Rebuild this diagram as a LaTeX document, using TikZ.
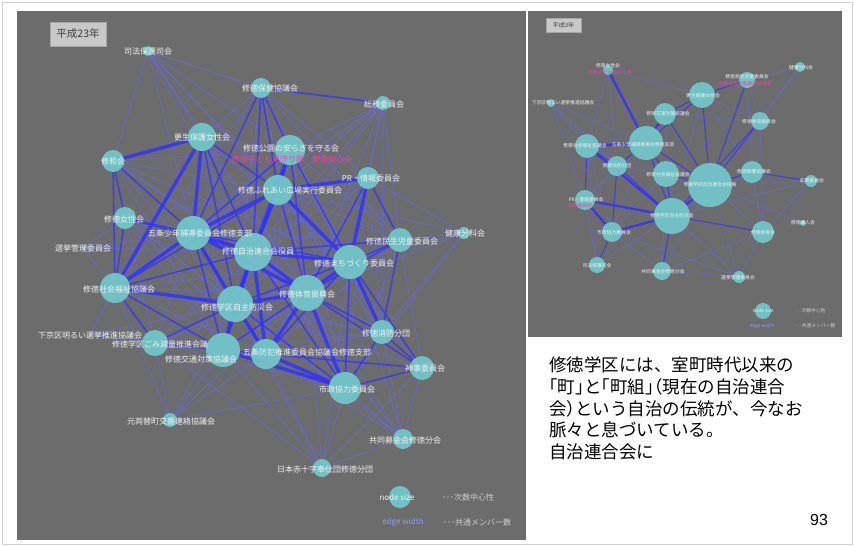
\documentclass[tikz,border=0pt]{standalone}
\usepackage{fontspec}
\setmainfont{Liberation Sans}
\newfontfamily\jp{Noto Sans CJK JP}
\newfontfamily\jphalt[RawFeature=+halt]{Noto Sans CJK JP}
\definecolor{panelgray}{RGB}{108,108,108}
\definecolor{nodeteal}{RGB}{114,200,204}
\definecolor{edgeblue}{RGB}{50,50,255}
\definecolor{edgedim}{RGB}{105,105,215}
\definecolor{pinktext}{RGB}{235,70,160}
\definecolor{plaquegray}{RGB}{200,200,200}
\definecolor{labwhite}{RGB}{242,242,242}
\definecolor{legendblue}{RGB}{150,150,255}
\pgfdeclarelayer{bg}
\pgfdeclarelayer{edges}
\pgfsetlayers{bg,edges,main}
\tikzset{
  panel/.style={fill=panelgray,draw=none},
  gn/.style={circle,fill=nodeteal,fill opacity=0.92,draw=none,inner sep=0pt},
  lab/.style={font=\jp\fontsize{8}{9}\selectfont,text=labwhite,inner sep=0pt},
  slab/.style={font=\jp\fontsize{4.8}{5.5}\selectfont,text=labwhite,inner sep=0pt},
  pinklab/.style={font=\jp\fontsize{8}{9}\selectfont,text=pinktext,inner sep=0pt},
  spinklab/.style={font=\jp\fontsize{4.8}{5.5}\selectfont,text=pinktext,inner sep=0pt},
  plaque/.style={fill=plaquegray,draw=gray!70,line width=0.6,inner sep=0pt},
  ewthin/.style={draw=edgedim,line width=0.8,opacity=0.75},
  ewmed/.style={draw=edgeblue,line width=1.6,opacity=0.75},
  ewthick/.style={draw=edgeblue,line width=3.4,opacity=0.85},
  swthin/.style={draw=edgedim,line width=0.6,opacity=0.75},
  swmed/.style={draw=edgeblue,line width=1.1,opacity=0.75},
  swthick/.style={draw=edgeblue,line width=2.4,opacity=0.85},
}
\begin{document}
\begin{tikzpicture}[x=1pt,y=-1pt]
\useasboundingbox (0,0) rectangle (854,546);
\begin{pgfonlayer}{bg}
  \fill[white] (0,0) rectangle (854,546);
  \draw[gray!35,line width=1] (2,2) rectangle (852,544);
  \fill[panel] (17,11) rectangle (526,540);
  \fill[panel] (528,11) rectangle (842,337);
\end{pgfonlayer}

% ---------------- left graph (H23) ----------------
\node[plaque,minimum width=56,minimum height=24] (plq1) at (78,34) {};
\node[font=\jp\fontsize{10.5}{12}\selectfont,text=black!75,inner sep=0pt] (plq1t) at (78,34) {平成23年};

\foreach \n/\x/\y/\r in {sh/148/51/5, hk/261/88/10, sm/383/103/7, ks/202/137/14,
  p/290/150/15, pr/368/178/11, f/278/190/15, sw/113/161/11, jw/125/218/11,
  k/193/233/17, sk2/83/248/1.5, j/253/252/19, ms/400/240/12, kk/464/233/6,
  m/350/262/17, s/115/288/15, t/307/293/18, b/235/304/18, ak/90/335/1.5,
  g/155/343/13, kt/223/350/17, bh/266/354/15, sh2/382/332/12, sj/422/368/12,
  sk/345/388/16, mr/170/420/7, kb/403/439/10, ns/322/468/9}
  \node[gn,minimum size=2*\r] (\n) at (\x,\y) {};

\begin{pgfonlayer}{edges}
\foreach \a/\b in {sh/hk, sh/ks, sh/f, sh/p, sh/j, sh/k, sh/m, sh/t, sh/sw,
  sm/p, sm/f, sm/k, sm/j, sm/m, sm/pr, sm/t, sm/b,
  kk/ms, kk/m, kk/pr, kk/t, kk/sh2, kk/f, kk/sk,
  sk2/s, sk2/k, sk2/jw, sk2/j, ak/s, ak/g, ak/b, ak/kt,
  mr/kt, mr/bh, mr/b, mr/g, mr/s, mr/sk, mr/t,
  ns/sk, ns/kb, ns/b, ns/bh, ns/kt, ns/g, ns/t, ns/sj, ns/m,
  kb/sk, kb/sj, kb/m, kb/t, kb/bh, kb/sh2, kb/j, kb/b,
  ms/sj, ms/b, ms/k, sj/f, pr/b, pr/j, pr/k, hk/m, hk/t, hk/b,
  sw/j, sw/b, sw/f, ks/p, ks/m, jw/b, jw/f, jw/g, g/sk, g/bh, g/j, g/t,
  s/sk, s/t, s/m, sh2/j, sh2/k, sh2/b, hk/ks, hk/pr,
  sw/m, sw/t, sw/p, sw/kt, ks/t, ks/kt, ks/bh, ks/sk, jw/m, jw/t, jw/kt,
  jw/bh, jw/sk, p/b, p/s, p/kt, p/bh, p/sk, p/sh2, p/ms, pr/sh2, pr/sk,
  pr/bh, f/kt, f/bh, f/sk, f/sh2, f/ms, hk/s, hk/ms, hk/sh2, ms/kt, ms/bh,
  ms/sk, sh2/bh, sh2/kt, sh2/s, g/k, g/m, kt/sj, b/sj, sm/ms, sm/sh2, sm/s}
  \draw[ewthin] (\a) -- (\b);
\foreach \a/\b in {k/m, k/p, k/kt, k/bh, j/s, j/ms, j/sk, f/t, f/b, f/s,
  p/m, p/t, m/b, m/ms, m/sk, m/bh, t/kt, t/ms, t/sh2, b/sk, b/g, kt/g,
  kt/bh, s/jw, s/g, s/kt, jw/k, jw/j, sw/s, sw/k, sw/jw, ks/f, ks/j, ks/b,
  hk/f, hk/p, hk/k, hk/j, hk/sm, pr/t, pr/ms, sh2/sk, sh2/sj, sj/sk, sj/m,
  sj/t, bh/sj, ms/sh2}
  \draw[ewmed] (\a) -- (\b);
\foreach \a/\b in {k/j, k/b, k/s, k/f, k/t, j/f, j/m, j/t, j/b, f/m, f/p,
  m/t, m/sh2, t/b, b/kt, b/bh, bh/sk, kt/sk, t/sk, ks/s, ks/k, sw/ks,
  j/kt, f/pr, p/j, m/pr, j/bh, t/bh, s/b}
  \draw[ewthick] (\a) -- (\b);
\end{pgfonlayer}

\foreach \n/\x/\y/\t in {sh/148/51/司法保護司会, hk/270/88/修徳保健協議会,
  sm/384/104/総務委員会, ks/202/137/更生保護女性会,
  p/291/148/修徳公園の安らぎを守る会, pr/371/178/PR・情報委員会,
  f/290/190/修徳ふれあい広場実行委員会, sw/113/161/修和会, jw/124/219/修徳女性会,
  k/200/233/五条少年補導委員会修徳支部, sk2/83/248/選挙管理委員会,
  j/258/251/修徳自治連合会役員, ms/402/241/修徳民生児童委員会,
  kk/465/233/健康分科会, m/354/263/修徳まちづくり委員会,
  s/119/289/修徳社会福祉協議会, t/307/294/修徳体育振興会,
  b/237/307/修徳学区自主防災会, ak/90/335/下京区明るい選挙推進協議会,
  g/160/344/修徳学区ごみ減量推進会議, kt/201/359/修徳交通対策協議会,
  bh/307/352/五条防犯推進委員会協議会修徳支部, sh2/386/333/修徳消防分団,
  sj/425/368/神事委員会, sk/347/389/市政協力委員会,
  mr/171/421/元両替町交番連絡協議会, kb/405/440/共同募金会修徳分会,
  ns/325/469/日本赤十字奉仕団修徳分団}
  \node[lab] (\n-l) at (\x,\y) {\t};
\node[pinklab] (p-pink) at (292,159) {修徳子ども見守り隊　安全安心会};

% legend (left)
\node[gn,minimum size=22] (lg1) at (400,497) {};
\node[lab] (lg1t) at (397,497) {node size};
\node[lab,text=labwhite!85!black] (lg1d) at (468,497) {･･･次数中心性};
\node[lab,text=legendblue] (lg2t) at (403,522) {edge width};
\node[lab,text=labwhite!85!black] (lg2d) at (477,522) {･･･共通メンバー数};

% ---------------- right graph (H3) ----------------
\node[plaque,minimum width=35,minimum height=14] (plq2) at (563.5,25) {};
\node[font=\jp\fontsize{6}{7}\selectfont,text=black!75,inner sep=0pt] (plq2t) at (563.5,25) {平成3年};

\foreach \n/\x/\y/\r in {r1/608/70/5, r2/551/103/4, r3/665/114/11, r4/587/146/12,
  r5/646/143/17, r6/617/166/10, r7/666/174/13, r8/702/95/13, r9/747/80/8,
  r10/800/67/5, r11/760/121/9, r12/710/185/22, r13/752/172/11, r14/811/181/6,
  r15/803/223/3, r16/763/232/11, r17/739/277/6, r18/585/200/10, r19/612/232/10,
  r20/597/265/8, r21/662/271/9, r22/672/216/18}
  \node[gn,minimum size=2*\r] (\n) at (\x,\y) {};

\begin{pgfonlayer}{edges}
\foreach \a/\b in {r2/r4, r2/r5, r2/r6, r2/r22, r1/r4, r1/r8, r9/r10, r9/r11,
  r10/r11, r10/r12, r14/r12, r14/r22, r14/r16, r15/r12, r16/r12, r16/r17,
  r17/r22, r17/r12, r17/r19, r20/r22, r20/r18, r21/r12, r21/r16, r13/r22,
  r13/r16, r11/r16, r8/r22, r3/r22, r1/r6, r9/r13, r2/r18, r20/r4,
  r4/r19, r6/r18, r6/r7, r3/r7, r3/r11, r8/r11, r8/r13, r7/r19, r7/r21,
  r19/r21, r21/r17, r22/r13, r5/r19, r5/r18, r4/r7}
  \draw[swthin] (\a) -- (\b);
\foreach \a/\b in {r5/r12, r5/r22, r5/r7, r7/r12, r7/r22, r3/r8, r3/r12, r8/r12,
  r8/r5, r6/r5, r6/r4, r6/r22, r6/r19, r11/r12, r11/r22, r13/r12, r16/r22,
  r4/r18, r21/r22, r20/r19, r9/r8, r9/r12, r13/r14}
  \draw[swmed] (\a) -- (\b);
\foreach \a/\b in {r4/r22, r18/r19, r19/r22, r5/r3, r4/r5, r1/r5, r18/r22, r12/r22}
  \draw[swthick] (\a) -- (\b);
\end{pgfonlayer}

\foreach \n/\x/\y/\t in {r1/608/66/修徳女性会, r2/563/103/下京区明るい選挙推進協議会,
  r3/668/114/修徳交通対策協議会, r4/585/146/修徳社会福祉協議会,
  r5/643/145/五条少年補導委員会修徳支部, r6/617/166/修徳消防分団,
  r7/668/175/修徳社会福祉協議会, r8/703/96/更生保護女性会,
  r9/747/77/修徳民生児童委員会, r10/801/68/健康分科会,
  r11/759/122/修徳体育振興会, r12/710/185/修徳学区自治連合会役員,
  r13/754/172/修徳保健協議会, r14/812/181/総務委員会,
  r15/803/223/修徳婦人会, r16/763/233/修徳体育会,
  r17/738/278/選挙管理委員会, r18/586/200/PR・情報委員会,
  r19/614/233/市政協力委員会, r20/597/266/司法保護司会,
  r21/663/272/共同募金会修徳分会, r22/672/216/修徳学区自主防災会}
  \node[slab] (\n-l) at (\x,\y) {\t};
\node[spinklab] (r1-pink) at (610,73) {修徳子ども見守り隊};
\node[spinklab] (r9-pink) at (745,84) {修徳地区児童委員協議会};
\node[spinklab] (r18-pink) at (580,206) {広報委員会};

% legend (right)
\node[gn,minimum size=16] (rlg1) at (763,311) {};
\node[slab] (rlg1t) at (763,311) {node size};
\node[slab,text=labwhite!85!black] (rlg1d) at (810,311) {･･･次数中心性};
\node[slab,text=legendblue] (rlg2t) at (762,326) {edge width};
\node[slab,text=labwhite!85!black] (rlg2d) at (815,326) {･･･共通メンバー数};

% ---------------- text ----------------
\node[anchor=north west,align=left,inner sep=0pt,
  font=\jp\fontsize{17.5}{21.6}\selectfont,text=black] (desc) at (549,357)
  {修徳学区には、室町時代以来の\\
   {\jphalt 「}町{\jphalt 」}と{\jphalt 「}町組{\jphalt 」}{\jphalt （}現在の自治連合\\
   会{\jphalt ）}という自治の伝統が、今なお\\
   脈々と息づいている。\\
   自治連合会に};
\node[font=\fontsize{16}{18}\selectfont,inner sep=0pt] (pgno) at (819,520) {93};
\end{tikzpicture}
\end{document}
